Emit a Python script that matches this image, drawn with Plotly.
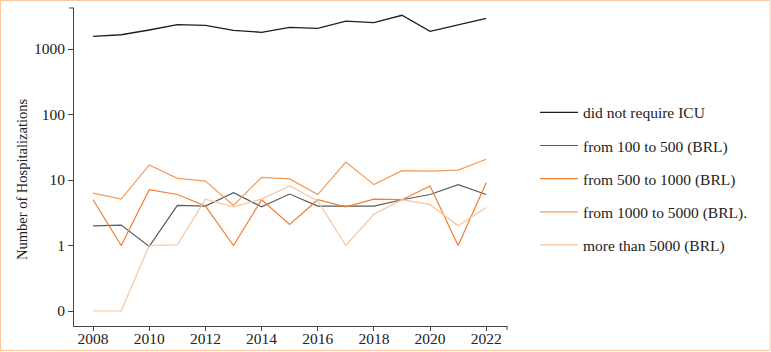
import numpy as np
import plotly.graph_objects as go

years = list(range(2008, 2023))
no_icu = [1560, 1650, 1950, 2350, 2300, 1930, 1800, 2140, 2070, 2670, 2520, 3270, 1860, 2350, 2940]
r100_500 = [2.0, 2.05, 0.97, 4.1, 4.0, 6.4, 3.9, 6.1, 4.0, 4.0, 4.0, 5.0, 6.0, 8.5, 6.0]
r500_1000 = [5.0, 1.0, 7.1, 6.0, 4.0, 1.0, 5.0, 2.1, 5.0, 3.9, 5.1, 5.0, 8.1, 1.0, 9.1]
r1000_5000 = [6.3, 5.1, 17.0, 10.6, 9.6, 4.1, 11.0, 10.4, 6.0, 18.8, 8.5, 13.9, 13.7, 14.2, 20.7]
more5000 = [0, 0, 1.0, 1.02, 5.1, 3.9, 5.1, 8.1, 4.8, 1.0, 3.0, 5.0, 4.2, 2.0, 3.8]

names = ["did not require ICU", "from 100 to 500 (BRL)", "from 500 to 1000 (BRL)",
         "from 1000 to 5000 (BRL).", "more than 5000 (BRL)"]
colors = ["#1e1e1e", "#5a5a5a", "#ef7f33", "#f39a57", "#f9c49c"]
widths = [1.3, 1.2, 1.2, 1.2, 1.2]
series = [no_icu, r100_500, r500_1000, r1000_5000, more5000]

ytickvals = [0.1, 1, 10, 100, 1000]
yticktext = ["0", "1", "10", "100", "1000"]
xtickvals = list(range(2008, 2023, 2))
ytitle = "Number of Hospitalizations"

fig = go.Figure()
for i, (nm, s) in enumerate(zip(names, series)):
    v = np.array(s, dtype=float)
    v = np.where(v == 0, 0.1, v)  # zero plotted at the "0" tick position
    fig.add_trace(go.Scatter(x=years, y=v, mode="lines", name=nm,
                             legendgroup=str(i),
                             line=dict(color=colors[i], width=widths[i])))

font = "Liberation Serif, Times New Roman, serif"
L, R, T, B = 74, 264, 8, 26
W, H = 771, 352
pw, ph = W - L - R, H - T - B

fig.update_layout(
    width=W, height=H,
    margin=dict(l=L, r=R, t=T, b=B, autoexpand=False),
    paper_bgcolor="white", plot_bgcolor="white",
    font=dict(family=font, size=15, color="#222"),
    showlegend=True,
    legend=dict(x=(535 - L) / pw, y=0.724, xanchor="left", yanchor="top",
                font=dict(family=font, size=15.5, color="#222"),
                traceorder="grouped", tracegroupgap=10,
                bgcolor="rgba(0,0,0,0)", itemwidth=38),
    xaxis=dict(range=[2007.32, 2022.74], tickvals=xtickvals, ticks="outside",
               ticklen=4, tickcolor="#444", showline=True, linecolor="#444",
               linewidth=1, showgrid=False, zeroline=False, automargin=False,
               ticklabelstandoff=-6,
               tickfont=dict(family=font, size=15.5, color="#222")),
    yaxis=dict(type="log", range=[-1.229, 3.626], tickvals=ytickvals,
               ticktext=yticktext, ticks="outside", ticklen=5, tickcolor="#444",
               showline=True, linecolor="#444", linewidth=1, showgrid=False,
               zeroline=False, automargin=False,
               tickfont=dict(family=font, size=15.5, color="#222")),
)

fig.add_annotation(text=ytitle, xref="paper", yref="paper",
                   x=(22 - L) / pw, y=(H - B - 180) / ph, textangle=-90,
                   showarrow=False, xanchor="center", yanchor="middle",
                   font=dict(family=font, size=14.5, color="#222"))

# axis end caps
fig.add_shape(type="line", xref="paper", yref="paper", x0=-5 / pw, x1=0, y0=1, y1=1,
              line=dict(color="#444", width=1))
fig.add_shape(type="line", xref="paper", yref="paper", x0=1, x1=1, y0=0, y1=-4 / ph,
              line=dict(color="#444", width=1))
# outer frame
fig.add_shape(type="rect", xref="paper", yref="paper",
              x0=(0.5 - L) / pw, x1=(770 - L) / pw,
              y0=(H - B - 350.5) / ph, y1=(H - B - 0.5) / ph,
              line=dict(color="#f9c8a0", width=1), fillcolor="rgba(0,0,0,0)")

fig.write_html("out.html")
